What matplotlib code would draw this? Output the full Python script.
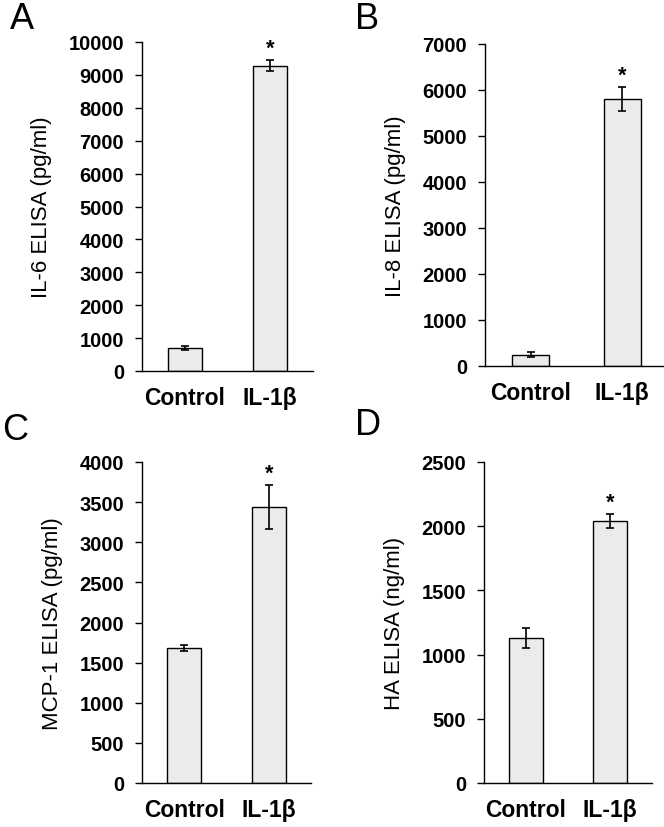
import matplotlib
matplotlib.use('Agg')
import matplotlib.pyplot as plt

plt.rcParams['font.family'] = ['Liberation Sans', 'DejaVu Sans']

groups = ['Control', 'IL-1β']

il6 = [700, 9280]
il6_err = [75, 160]
il8 = [240, 5800]
il8_err = [55, 260]
mcp1 = [1680, 3440]
mcp1_err = [40, 270]
ha = [1130, 2040]
ha_err = [75, 55]

ylabels = ['IL-6 ELISA (pg/ml)', 'IL-8 ELISA (pg/ml)',
           'MCP-1 ELISA (pg/ml)', 'HA ELISA (ng/ml)']
ymax = [10000, 7000, 4000, 2500]
ystep = [1000, 1000, 500, 500]
letters = ['A', 'B', 'C', 'D']

fig = plt.figure(figsize=(6.64, 8.28), dpi=100)

# axes boxes in pixels: left, right, bottom, top
boxes = [(142, 313, 372, 43), (485, 668, 367, 45),
         (142, 311, 784, 463), (484, 652, 784, 463)]
letter_pos = [(10, 2), (355, 2), (2, 413), (355, 408)]

data = [(il6, il6_err), (il8, il8_err), (mcp1, mcp1_err), (ha, ha_err)]

for i in range(4):
    l, r, b, t = boxes[i]
    ax = fig.add_axes([l / 664, (828 - b) / 828, (r - l) / 664, (b - t) / 828])
    vals, errs = data[i]
    ax.bar([0, 1], vals, width=0.4, color='#ebebeb', edgecolor='black',
           linewidth=1, yerr=errs, capsize=3,
           error_kw=dict(elinewidth=1.2, capthick=1.2, ecolor='black'))
    ax.annotate('*', xy=(1, vals[1] + errs[1]), xytext=(0, 1),
                textcoords='offset points', ha='center', va='bottom',
                fontsize=15.5, fontweight='bold')
    ax.set_xlim(-0.5, 1.5)
    ax.set_ylim(0, ymax[i])
    ax.set_yticks(range(0, ymax[i] + 1, ystep[i]))
    ax.set_xticks([0, 1])
    ax.set_xticklabels(groups, fontsize=16.5, fontweight='bold')
    ax.tick_params(axis='x', length=0, pad=11)
    ax.tick_params(axis='y', length=5, width=1, pad=8, labelsize=14.5)
    for lab in ax.get_yticklabels():
        lab.set_fontweight('bold')
    ax.spines['top'].set_visible(False)
    ax.spines['right'].set_visible(False)
    ax.spines['left'].set_linewidth(1)
    ax.spines['bottom'].set_linewidth(1)
    ax.set_ylabel(ylabels[i], fontsize=16, labelpad=12)

    lx, ly = letter_pos[i]
    fig.text(lx / 664, 1 - ly / 828, letters[i], fontsize=26,
             ha='left', va='top')

fig.savefig('out.png', dpi=100)
